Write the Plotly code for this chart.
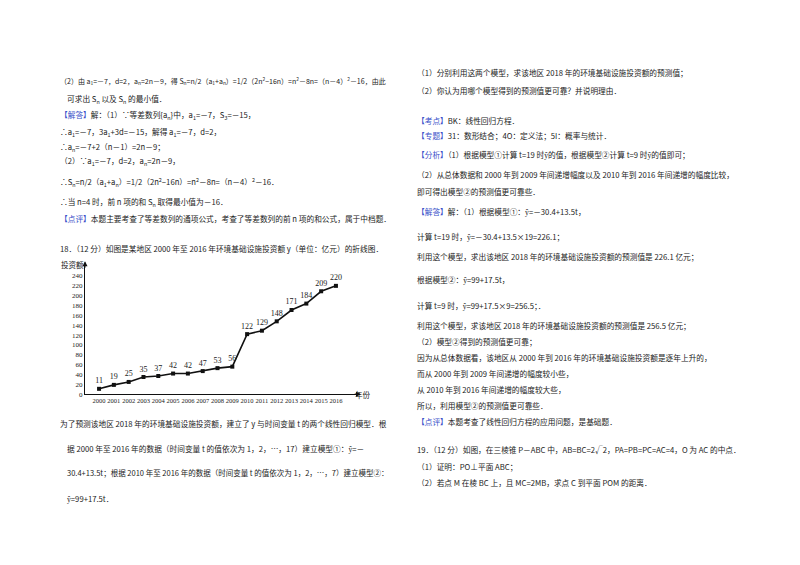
import plotly.graph_objects as go

years = [str(y) for y in range(2000, 2017)]
values = [11, 19, 25, 35, 37, 42, 42, 47, 53, 56, 122, 129, 148, 171, 184, 209, 220]
yticks = list(range(0, 260, 20))

W, H = 800, 565
def px(x): return x / W
def py(y): return 1 - y / H

fig = go.Figure()
fig.add_trace(go.Scatter(
    x=list(range(2000, 2017)), y=values, mode="lines+markers+text",
    text=[str(v) for v in values], textposition="top center",
    textfont=dict(family="Liberation Serif", size=8, color="#222"),
    line=dict(color="#111", width=1.6), marker=dict(symbol="square", size=4, color="#111"),
    cliponaxis=False, showlegend=False))

fig.update_xaxes(domain=[px(77), px(350)], range=[1999.05, 2017.49],
                 tickvals=list(range(2000, 2017)), ticktext=years, tickangle=0,
                 tickfont=dict(family="Liberation Serif", size=6.5, color="#222"),
                 showgrid=False, zeroline=False, showline=True, linecolor="#111", linewidth=1,
                 ticks="", anchor="y")
fig.update_yaxes(domain=[py(389), py(258)], range=[0, 264], tickvals=yticks,
                 tickfont=dict(family="Liberation Serif", size=7, color="#222"),
                 showgrid=False, zeroline=False, showline=True, linecolor="#111", linewidth=1,
                 ticks="", anchor="x")

B = "<span style='color:#3a4fc9'>"
E = "</span>"
left = [
    (50, 73, "（2）由 a<sub>1</sub>=－7，d=2，a<sub>n</sub>=2n－9，得 S<sub>n</sub>=n/2（a<sub>1</sub>+a<sub>n</sub>）=1/2（2n<sup>2</sup>−16n）=n<sup>2</sup>－8n=（n－4）<sup>2</sup>－16，由此", 7),
    (57, 92, "可求出 S<sub>n</sub> 以及 S<sub>n</sub> 的最小值．", 7.7),
    (50, 108, B + "【解答】" + E + "解：（1）∵等差数列{a<sub>n</sub>}中，a<sub>1</sub>=－7，S<sub>3</sub>=－15，", 7.7),
    (50, 125, "∴a<sub>1</sub>=－7，3a<sub>1</sub>+3d=－15，解得 a<sub>1</sub>=－7，d=2，", 7.7),
    (50, 140, "∴a<sub>n</sub>=－7+2（n－1）=2n－9；", 7.7),
    (50, 155, "（2）∵a<sub>1</sub>=－7，d=2，a<sub>n</sub>=2n－9，", 7.7),
    (50, 176, "∴S<sub>n</sub>=n/2（a<sub>1</sub>+a<sub>n</sub>）=1/2（2n<sup>2</sup>−16n）=n<sup>2</sup>－8n=（n－4）<sup>2</sup>－16．", 7.7),
    (50, 196, "∴当 n=4 时，前 n 项的和 S<sub>n</sub> 取得最小值为－16．", 7.7),
    (50, 212, B + "【点评】" + E + "本题主要考查了等差数列的通项公式，考查了等差数列的前 n 项的和公式，属于中档题．", 7.7),
    (50, 242, "18．（12 分）如图是某地区 2000 年至 2016 年环境基础设施投资额 y（单位：亿元）的折线图．", 7.7),
    (50, 418, "为了预测该地区 2018 年的环境基础设施投资额，建立了 y 与时间变量 t 的两个线性回归模型．根", 7.7),
    (57, 444, "据 2000 年至 2016 年的数据（时间变量 t 的值依次为 1，2，…，17）建立模型①：ŷ=－", 7.7),
    (57, 468, "30.4+13.5t；根据 2010 年至 2016 年的数据（时间变量 t 的值依次为 1，2，…，7）建立模型②：", 7.5),
    (57, 494, "ŷ=99+17.5t．", 7.7),
    (407, 65, "（1）分别利用这两个模型，求该地区 2018 年的环境基础设施投资额的预测值；", 7.7),
    (407, 83, "（2）你认为用哪个模型得到的预测值更可靠？并说明理由．", 7.7),
    (407, 113, B + "【考点】" + E + "BK：线性回归方程．", 7.7),
    (407, 128, B + "【专题】" + E + "31：数形结合；4O：定义法；5I：概率与统计．", 7.7),
    (407, 148, B + "【分析】" + E + "（1）根据模型①计算 t=19 时ŷ的值，根据模型②计算 t=9 时ŷ的值即可；", 7.7),
    (407, 168, "（2）从总体数据和 2000 年到 2009 年间递增幅度以及 2010 年到 2016 年间递增的幅度比较，", 7.7),
    (407, 185, "即可得出模型②的预测值更可靠些．", 7.7),
    (407, 205, B + "【解答】" + E + "解：（1）根据模型①：ŷ=－30.4+13.5t，", 7.7),
    (407, 230, "计算 t=19 时，ŷ=－30.4+13.5×19=226.1；", 7.7),
    (407, 250, "利用这个模型，求出该地区 2018 年的环境基础设施投资额的预测值是 226.1 亿元；", 7.7),
    (407, 273, "根据模型②：ŷ=99+17.5t，", 7.7),
    (407, 300, "计算 t=9 时，ŷ=99+17.5×9=256.5；．", 7.7),
    (407, 320, "利用这个模型，求该地区 2018 年的环境基础设施投资额的预测值是 256.5 亿元；", 7.7),
    (407, 336, "（2）模型②得到的预测值更可靠；", 7.7),
    (407, 352, "因为从总体数据看，该地区从 2000 年到 2016 年的环境基础设施投资额是逐年上升的，", 7.7),
    (407, 368, "而从 2000 年到 2009 年间递增的幅度较小些，", 7.7),
    (407, 384, "从 2010 年到 2016 年间递增的幅度较大些，", 7.7),
    (407, 400, "所以，利用模型②的预测值更可靠些．", 7.7),
    (407, 416, B + "【点评】" + E + "本题考查了线性回归方程的应用问题，是基础题．", 7.7),
    (407, 445, "19．（12 分）如图，在三棱锥 P－ABC 中，AB=BC=2√2，PA=PB=PC=AC=4，O 为 AC 的中点．", 7.7),
    (407, 462, "（1）证明：PO⊥平面 ABC；", 7.7),
    (407, 478, "（2）若点 M 在棱 BC 上，且 MC=2MB，求点 C 到平面 POM 的距离．", 7.7),
]
for x, y, t, s in left:
    fig.add_annotation(x=px(x), y=py(y), xref="paper", yref="paper", text=t,
                       showarrow=False, xanchor="left", yanchor="middle",
                       font=dict(family="Noto Sans CJK SC", size=s, color="#222"))

fig.add_annotation(x=px(51), y=py(258), xref="paper", yref="paper", text="投资额",
                   showarrow=False, xanchor="left", font=dict(family="Noto Sans CJK SC", size=7.5, color="#222"))
fig.add_annotation(x=px(345), y=py(397), xref="paper", yref="paper", text="年份",
                   showarrow=False, xanchor="left", font=dict(family="Noto Sans CJK SC", size=7.5, color="#222"))
fig.add_annotation(x=px(77), y=py(255), xref="paper", yref="paper", ax=0, ay=8, text="",
                   showarrow=True, arrowhead=2, arrowsize=1, arrowwidth=1, arrowcolor="#111")
fig.add_annotation(x=px(353), y=py(389), xref="paper", yref="paper", ax=-8, ay=0, text="",
                   showarrow=True, arrowhead=2, arrowsize=1, arrowwidth=1, arrowcolor="#111")

fig.update_layout(width=W, height=H, margin=dict(l=0, r=0, t=0, b=0),
                  paper_bgcolor="white", plot_bgcolor="white")
fig.write_html("out.html")
